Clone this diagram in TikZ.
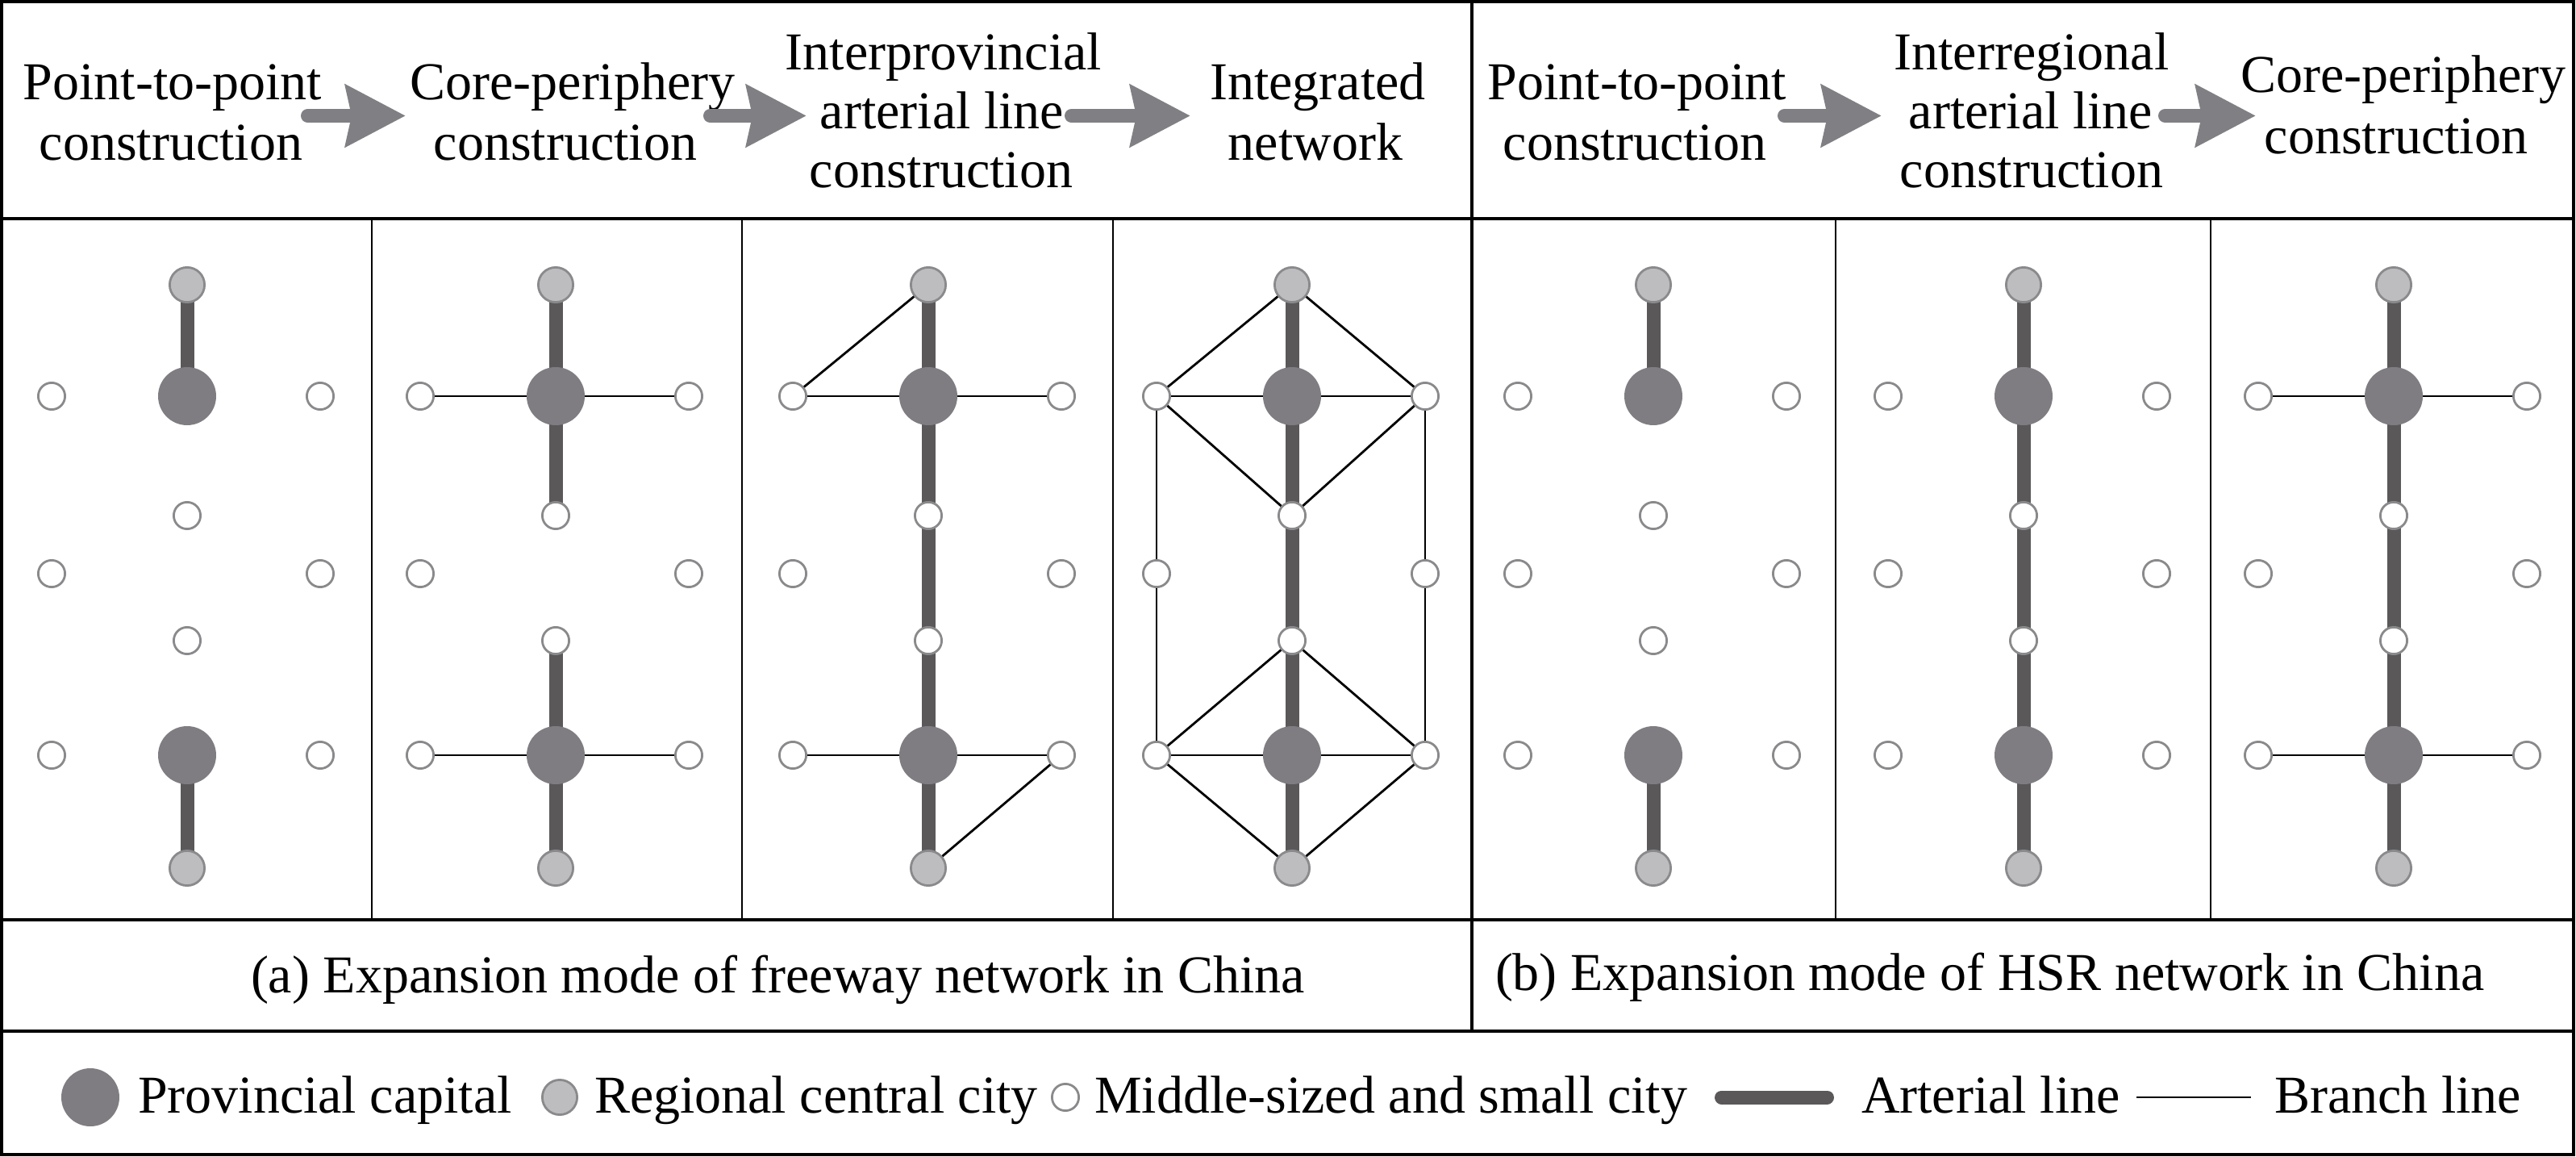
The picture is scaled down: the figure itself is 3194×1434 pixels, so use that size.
\documentclass[tikz,border=0pt]{standalone}
\usepackage{fontspec}
\setmainfont{Liberation Serif}
\usetikzlibrary{arrows.meta}
\pgfdeclarelayer{background}
\pgfsetlayers{background,main}
\definecolor{provfill}{HTML}{7F7D82}
\definecolor{regfill}{HTML}{BDBCBE}
\definecolor{ringgray}{HTML}{8A898C}
\definecolor{artgray}{HTML}{5A5859}
\definecolor{arrowgray}{HTML}{807F84}
\begin{document}
\begin{tikzpicture}[x=0.25pt,y=-0.25pt,
  font=\fontsize{16.5pt}{18pt}\selectfont,
  txt/.style={inner sep=0pt, outer sep=0pt, anchor=base},
  txtl/.style={inner sep=0pt, outer sep=0pt, anchor=base west},
  prov/.style={circle, fill=provfill, inner sep=0pt, minimum size=18pt},
  reg/.style={circle, fill=regfill, draw=ringgray, line width=0.7pt, inner sep=0pt, minimum size=10.8pt},
  city/.style={circle, fill=white, draw=ringgray, line width=0.7pt, inner sep=0pt, minimum size=8.3pt},
  art/.style={draw=artgray, line width=4.25pt},
  branch/.style={draw=black, line width=0.7pt},
  frame/.style={draw=black, line width=1pt},
  divider/.style={draw=black, line width=0.65pt},
  hdrarrow/.style={draw=arrowgray, line width=4.25pt, line cap=round,
    -{Stealth[length=18.5pt,width=18.75pt,inset=1.75pt]}}]
\useasboundingbox (0,0) rectangle (3194,1434);

% ---- frames ----
\draw[frame] (2,2) rectangle (3191,1431);
\draw[frame] (2,271) -- (3191,271);
\draw[frame] (2,1140) -- (3191,1140);
\draw[frame] (2,1278) -- (3191,1278);
\draw[frame] (1825,2) -- (1825,1278);
\foreach \x in {461,920,1380,2276,2741}{\draw[divider] (\x,271) -- (\x,1140);}

% ---- header texts ----
\node[txt] (h1a) at (214,124) {Point-to-point};
\node[txt] (h1b) at (212,199) {construction};
\node[txt] (h2a) at (710,124) {Core-periphery};
\node[txt] (h2b) at (701,199) {construction};
\node[txt] (h3a) at (1170,87) {Interprovincial};
\node[txt] (h3b) at (1168,160) {arterial line};
\node[txt] (h3c) at (1167,233) {construction};
\node[txt] (h4a) at (1634,124) {Integrated};
\node[txt] (h4b) at (1631,199) {network};
\node[txt] (g1a) at (2030,124) {Point-to-point};
\node[txt] (g1b) at (2027,199) {construction};
\node[txt] (g2a) at (2519,87) {Interregional};
\node[txt] (g2b) at (2518,160) {arterial line};
\node[txt] (g2c) at (2519,233) {construction};
\node[txt] (g3a) at (2980,115) {Core-periphery};
\node[txt] (g3b) at (2971,191) {construction};

% ---- header arrows ----
\coordinate (ar1s) at (381.5,143.5);  \coordinate (ar1e) at (503,143.5);
\coordinate (ar2s) at (880.5,143.5);  \coordinate (ar2e) at (1000,143.5);
\coordinate (ar3s) at (1328.5,143.5); \coordinate (ar3e) at (1476,143.5);
\coordinate (br1s) at (2212.5,143.5); \coordinate (br1e) at (2333,143.5);
\coordinate (br2s) at (2684.5,143.5); \coordinate (br2e) at (2797,143.5);
\draw[hdrarrow] (ar1s) -- (ar1e);
\draw[hdrarrow] (ar2s) -- (ar2e);
\draw[hdrarrow] (ar3s) -- (ar3e);
\draw[hdrarrow] (br1s) -- (br1e);
\draw[hdrarrow] (br2s) -- (br2e);

% ---- panel nodes ----
\foreach \p/\c in {p1/232,p2/689,p3/1151,p4/1602,p5/2050,p6/2509,p7/2968}{
  \node[reg]  (\p T)  at (\c,353) {};
  \node[prov] (\p P1) at (\c,491) {};
  \node[city] (\p L1) at (\c-168,491) {};
  \node[city] (\p R1) at (\c+165,491) {};
  \node[city] (\p M1) at (\c,639) {};
  \node[city] (\p L2) at (\c-168,711) {};
  \node[city] (\p R2) at (\c+165,711) {};
  \node[city] (\p M2) at (\c,794) {};
  \node[prov] (\p P2) at (\c,936) {};
  \node[city] (\p L3) at (\c-168,936) {};
  \node[city] (\p R3) at (\c+165,936) {};
  \node[reg]  (\p B)  at (\c,1076) {};
}

% ---- panel connectors ----
\begin{pgfonlayer}{background}
  % panel 1 and 5: point-to-point
  \foreach \p in {p1,p5}{
    \draw[art] (\p T.center) -- (\p P1.center);
    \draw[art] (\p P2.center) -- (\p B.center);
  }
  % panel 2: core-periphery
  \draw[art] (p2T.center) -- (p2P1.center) -- (p2M1.center);
  \draw[art] (p2M2.center) -- (p2P2.center) -- (p2B.center);
  \draw[branch] (p2L1.center) -- (p2R1.center);
  \draw[branch] (p2L3.center) -- (p2R3.center);
  % panel 3: interprovincial arterial
  \draw[art] (p3T.center) -- (p3B.center);
  \draw[branch] (p3L1.center) -- (p3R1.center);
  \draw[branch] (p3L3.center) -- (p3R3.center);
  \draw[branch] (p3L1.center) -- (p3T.center);
  \draw[branch] (p3R3.center) -- (p3B.center);
  % panel 4: integrated network
  \draw[art] (p4T.center) -- (p4B.center);
  \draw[branch] (p4L1.center) -- (p4R1.center);
  \draw[branch] (p4L3.center) -- (p4R3.center);
  \draw[branch] (p4T.center) -- (p4L1.center);
  \draw[branch] (p4T.center) -- (p4R1.center);
  \draw[branch] (p4L1.center) -- (p4M1.center);
  \draw[branch] (p4R1.center) -- (p4M1.center);
  \draw[branch] (p4L1.center) -- (p4L3.center);
  \draw[branch] (p4R1.center) -- (p4R3.center);
  \draw[branch] (p4M2.center) -- (p4L3.center);
  \draw[branch] (p4M2.center) -- (p4R3.center);
  \draw[branch] (p4L3.center) -- (p4B.center);
  \draw[branch] (p4R3.center) -- (p4B.center);
  % panel 6: interregional arterial
  \draw[art] (p6T.center) -- (p6B.center);
  % panel 7: core-periphery
  \draw[art] (p7T.center) -- (p7B.center);
  \draw[branch] (p7L1.center) -- (p7R1.center);
  \draw[branch] (p7L3.center) -- (p7R3.center);
\end{pgfonlayer}

% ---- captions ----
\node[txtl] (capa) at (311,1230) {(a) Expansion mode of freeway network in China};
\node[txtl] (capb) at (1854,1227) {(b) Expansion mode of HSR network in China};

% ---- legend ----
\node[prov] (lgP) at (112,1360) {};
\node[txtl] (lgPt) at (171,1379) {Provincial capital};
\node[reg] (lgR) at (694,1360) {};
\node[txtl] (lgRt) at (737,1379) {Regional central city};
\node[city] (lgC) at (1321,1360) {};
\node[txtl] (lgCt) at (1357,1379) {Middle-sized and small city};
\coordinate (lgA1) at (2134.5,1360); \coordinate (lgA2) at (2265.5,1360);
\draw[art, line cap=round] (lgA1) -- (lgA2);
\node[txtl] (lgAt) at (2308,1379) {Arterial line};
\coordinate (lgB1) at (2649,1360); \coordinate (lgB2) at (2791,1360);
\draw[branch] (lgB1) -- (lgB2);
\node[txtl] (lgBt) at (2820,1379) {Branch line};
\end{tikzpicture}
\end{document}
